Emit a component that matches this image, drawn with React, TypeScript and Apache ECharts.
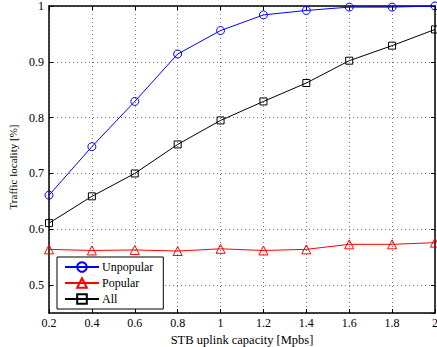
import React, { useEffect, useRef } from "react";
import * as echarts from "echarts";

const xValues = [0.2, 0.4, 0.6, 0.8, 1.0, 1.2, 1.4, 1.6, 1.8, 2.0];
const unpopular = [0.661, 0.748, 0.829, 0.914, 0.956, 0.984, 0.992, 0.998, 0.998, 1.0];
const popular = [0.564, 0.562, 0.563, 0.561, 0.565, 0.562, 0.564, 0.573, 0.573, 0.576];
const all = [0.611, 0.659, 0.7, 0.752, 0.795, 0.829, 0.862, 0.902, 0.929, 0.958];

const FONT = "Liberation Serif";

function fmt(v: number) {
  const r = Math.round(v * 100) / 100;
  return String(r);
}

export default function App() {
  const ref = useRef<HTMLDivElement>(null);
  useEffect(() => {
    if (!ref.current) return;
    const chart = echarts.init(ref.current, undefined, { renderer: "svg" });
    const pair = (arr: number[]) => xValues.map((x, i) => [x, arr[i]]);
    const tickStyle = { inside: true, length: 4, lineStyle: { color: "#000", width: 1 } };
    const grid = { type: [1, 3] as any, color: "#777", width: 1 };
    chart.setOption({
      animation: false,
      backgroundColor: "#fff",
      grid: { left: 49, right: 2, top: 6, bottom: 34, show: false, outerBoundsMode: "none", containLabel: false },
      legend: {
        orient: "vertical",
        left: 57,
        top: 257,
        backgroundColor: "#fff",
        borderColor: "#000",
        borderWidth: 1,
        borderRadius: 0,
        padding: [4, 10, 4, 7],
        itemGap: 4,
        itemWidth: 34,
        itemHeight: 12,
        textStyle: { fontFamily: FONT, fontSize: 12, color: "#000", padding: [0, 0, 0, -2] },
        data: ["Unpopular", "Popular", "All"],
      },
      xAxis: [
        {
          type: "value",
          min: 0.2,
          max: 2,
          interval: 0.2,
          name: "STB uplink capacity [Mpbs]",
          nameLocation: "middle",
          nameGap: 14,
          nameTextStyle: { fontFamily: FONT, fontSize: 12.5, color: "#000", verticalAlign: "top" },
          axisLine: { show: true, lineStyle: { color: "#000", width: 1.5 } },
          axisTick: tickStyle,
          axisLabel: {
            fontFamily: FONT,
            fontSize: 12,
            color: "#000",
            margin: 4,
            formatter: (v: number) => fmt(v),
          },
          splitLine: { show: true, lineStyle: grid },
        },
        {
          type: "value",
          position: "top",
          min: 0.2,
          max: 2,
          interval: 0.2,
          axisLine: { show: true, onZero: false, lineStyle: { color: "#000", width: 1.5 } },
          axisTick: tickStyle,
          axisLabel: { show: false },
          splitLine: { show: false },
        },
      ],
      yAxis: [
        {
          type: "value",
          min: 0.45,
          max: 1,
          splitNumber: 5,
          name: "Traffic locality [%]",
          nameLocation: "middle",
          nameGap: 24,
          nameTextStyle: { fontFamily: FONT, fontSize: 11, color: "#000", padding: [0, 15, 0, 0] },
          axisLine: { show: true, lineStyle: { color: "#000", width: 1.5 } },
          axisTick: tickStyle,
          axisLabel: {
            fontFamily: FONT,
            fontSize: 12,
            color: "#000",
            margin: 5,
            showMinLabel: false,
            formatter: (v: number) => (Math.abs(v - 0.45) < 1e-6 ? "" : fmt(v)),
          },
          splitLine: { show: true, lineStyle: grid },
        },
        {
          type: "value",
          position: "right",
          min: 0.45,
          max: 1,
          splitNumber: 5,
          axisLine: { show: true, onZero: false, lineStyle: { color: "#000", width: 1.5 } },
          axisTick: tickStyle,
          axisLabel: { show: false },
          splitLine: { show: false },
        },
      ],
      series: [
        {
          name: "Unpopular",
          type: "line",
          data: pair(unpopular),
          symbol: "circle",
          symbolSize: 8,
          lineStyle: { color: "#0000ff", width: 1 },
          itemStyle: { color: "rgba(255,255,255,0)", borderColor: "#0000ff", borderWidth: 1 },
          z: 3,
        },
        {
          name: "Popular",
          type: "line",
          data: pair(popular),
          symbol: "triangle",
          symbolSize: 9,
          lineStyle: { color: "#ff0000", width: 1 },
          itemStyle: { color: "rgba(255,255,255,0)", borderColor: "#ff0000", borderWidth: 1 },
          z: 3,
        },
        {
          name: "All",
          type: "line",
          data: pair(all),
          symbol: "rect",
          symbolSize: 7,
          lineStyle: { color: "#000", width: 1 },
          itemStyle: { color: "rgba(255,255,255,0)", borderColor: "#000", borderWidth: 1 },
          z: 3,
        },
      ],
    });
    return () => chart.dispose();
  }, []);
  return (
    <div
      ref={ref}
      style={{ position: "absolute", left: 0, top: 0, width: 437, height: 347 }}
    />
  );
}
